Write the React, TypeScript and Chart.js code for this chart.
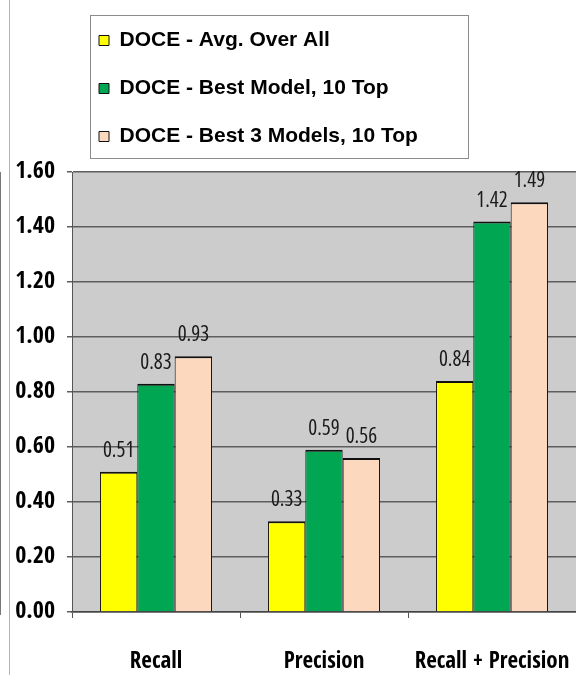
import React, { useEffect, useRef } from "react";
import { Chart, registerables } from "chart.js";

Chart.register(...registerables);

const categories = ["Recall", "Precision", "Recall + Precision"];
const seriesNames = [
  "DOCE - Avg. Over All",
  "DOCE - Best Model, 10 Top",
  "DOCE - Best 3 Models, 10 Top",
];
const avgOverAll = [0.51, 0.33, 0.84];
const bestModel = [0.83, 0.59, 1.42];
const best3Models = [0.93, 0.56, 1.49];
const seriesColors = ["#FFFF00", "#00A651", "#FCD9BE"];
const yTicks = [0, 0.2, 0.4, 0.6, 0.8, 1.0, 1.2, 1.4, 1.6];

const NARROW = "'Open Sans Condensed', 'Roboto Condensed', 'Liberation Sans', sans-serif";
const WIDE = "'Liberation Sans', Arial, sans-serif";

const decorPlugin = {
  id: "decor",
  beforeDraw(chart: any) {
    const { ctx, chartArea, height } = chart;
    ctx.save();
    ctx.fillStyle = "#CCCCCC";
    ctx.fillRect(chartArea.left, chartArea.top, chartArea.right - chartArea.left, chartArea.bottom - chartArea.top);
    ctx.fillStyle = "#B4B4B4";
    ctx.fillRect(9, 0, 1, height);
    ctx.fillStyle = "#777777";
    ctx.fillRect(0, chartArea.top, 1, chartArea.bottom - chartArea.top + 3);
    const lg = chart.legend;
    if (lg && lg.legendHitBoxes && lg.legendHitBoxes.length) {
      let l = Infinity, t = Infinity, r = -Infinity, b = -Infinity;
      lg.legendHitBoxes.forEach((h: any) => {
        l = Math.min(l, h.left);
        t = Math.min(t, h.top);
        r = Math.max(r, h.left + h.width);
        b = Math.max(b, h.top + h.height);
      });
      const fl = Math.round(l - 9) + 0.5;
      const ft = Math.round(t - 15) + 0.5;
      const fr = Math.round(r + 50) + 0.5;
      const fb = Math.round(b + 11) + 0.5;
      ctx.fillStyle = "#FFFFFF";
      ctx.fillRect(fl, ft, fr - fl, fb - ft);
      ctx.strokeStyle = "#8C8C8C";
      ctx.lineWidth = 1;
      ctx.strokeRect(fl, ft, fr - fl, fb - ft);
    }
    ctx.restore();
  },
  afterDatasetsDraw(chart: any) {
    const { ctx } = chart;
    ctx.save();
    ctx.font = "condensed 21px 'Open Sans', 'Open Sans Condensed', sans-serif";
    ctx.fillStyle = "#1A1A1A";
    ctx.textAlign = "center";
    ctx.textBaseline = "alphabetic";
    chart.data.datasets.forEach((ds: any, i: number) => {
      const meta = chart.getDatasetMeta(i);
      meta.data.forEach((el: any, j: number) => {
        const v = ds.data[j];
        ctx.fillText(Number(v).toFixed(2), el.x, el.y - 15);
      });
    });
    ctx.restore();
  },
};

export default function App() {
  const ref = useRef<HTMLCanvasElement | null>(null);

  useEffect(() => {
    if (!ref.current) return;
    const seriesData = [avgOverAll, bestModel, best3Models];
    const chart = new Chart(ref.current, {
      type: "bar",
      data: {
        labels: categories,
        datasets: seriesData.map((d, i) => ({
          label: seriesNames[i],
          data: d,
          backgroundColor: seriesColors[i],
          borderColor: "#111111",
          borderWidth: { top: 2, left: 1, right: 1, bottom: 0 },
          categoryPercentage: 0.667,
          barPercentage: 1.0,
        })),
      },
      options: {
        animation: false,
        responsive: false,
        maintainAspectRatio: false,
        devicePixelRatio: 1,
        layout: { padding: { top: 3, left: 0, right: 0, bottom: 0 } },
        plugins: {
          legend: {
            display: true,
            position: "top",
            align: "start",
            fullSize: false,
            labels: {
              boxWidth: 10,
              boxHeight: 10,
              padding: 27,
              color: "#000000",
              font: { family: WIDE, size: 21, weight: "bold" },
            },
          },
          title: {
            display: true,
            text: "",
            weight: 500,
            font: { size: 10, lineHeight: 1.2 },
            padding: { top: 0, bottom: 3 },
          } as any,
          tooltip: { enabled: false },
        },
        scales: {
          x: {
            offset: true,
            afterFit: (s: any) => {
              s.height = 63;
              s.paddingLeft = 0;
              s.paddingRight = 0;
            },
            grid: {
              offset: true,
              drawOnChartArea: false,
              drawTicks: true,
              tickLength: 6,
              color: "#555555",
            },
            border: { display: true, color: "#444444", width: 1.5 },
            ticks: {
              padding: 30,
              color: "#000000",
              font: { family: NARROW, size: 23, weight: "bold" },
              maxRotation: 0,
              autoSkip: false,
            },
          },
          y: {
            min: 0,
            max: 1.6,
            afterFit: (s: any) => {
              s.width = 72;
            },
            afterBuildTicks: (s: any) => {
              s.ticks = yTicks.map((v) => ({ value: v }));
            },
            grid: {
              color: "#5E5E5E",
              lineWidth: 1.5,
              drawTicks: true,
              tickLength: 5,
            },
            border: { display: true, color: "#555555", width: 1 },
            ticks: {
              padding: 12,
              color: "#000000",
              font: { family: NARROW, size: 24, weight: "bold" },
              callback: (v: any) => Number(v).toFixed(2),
            },
          },
        },
      },
      plugins: [decorPlugin],
    });
    return () => chart.destroy();
  }, []);

  return (
    <div style={{ position: "fixed", left: 0, top: 0, width: 576, height: 675, background: "#FFFFFF" }}>
      <canvas ref={ref} width={576} height={675} style={{ display: "block", width: 576, height: 675 }} />
    </div>
  );
}
